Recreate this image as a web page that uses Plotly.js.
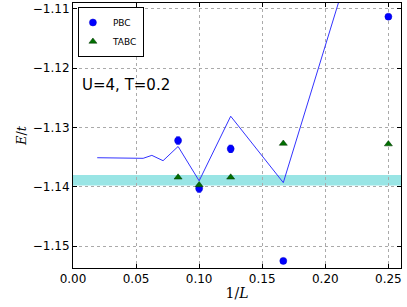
<!DOCTYPE html>
<html>
<head>
<meta charset="utf-8">
<script src="https://cdn.plot.ly/plotly-3.0.1.min.js"></script>
<style>html,body{margin:0;padding:0;background:#fff;}#chart{width:407px;height:307px;}</style>
</head>
<body>
<div id="chart"></div>
<script>
// PBC data
var pbcX = [0.25, 0.1667, 0.125, 0.1, 0.0833];
var pbcY = [-1.1113, -1.1525, -1.1336, -1.1403, -1.1322];
var pbcErr = [0.0002, 0.0002, 0.0006, 0.0006, 0.0006];
// TABC data
var tabcX = [0.25, 0.1667, 0.125, 0.1, 0.0833];
var tabcY = [-1.1328, -1.1327, -1.1384, -1.1397, -1.1384];
// line data
var lineX = [0.0192, 0.025, 0.0333, 0.0417, 0.05, 0.0556, 0.0625, 0.0714, 0.0833, 0.1, 0.125, 0.1667, 0.25];
var lineY = [-1.1351, -1.1351, -1.1351, -1.1351, -1.1351, -1.1352, -1.1347, -1.1356, -1.1332, -1.1390, -1.1281, -1.1393, -1.0815];
// band
var bandLow = -1.1398, bandHigh = -1.1380;
var xTicks = [0, 0.05, 0.1, 0.15, 0.2, 0.25];
var xTickText = ['0.00', '0.05', '0.10', '0.15', '0.20', '0.25'];
var yTicks = [-1.15, -1.14, -1.13, -1.12, -1.11];
var yTickText = ['\u22121.15', '\u22121.14', '\u22121.13', '\u22121.12', '\u22121.11'];

var traces = [
  {x: lineX, y: lineY, mode: 'lines', line: {color: '#3333ff', width: 1}, showlegend: false, hoverinfo: 'skip'},
  {x: pbcX, y: pbcY, mode: 'markers', name: 'PBC',
   marker: {symbol: 'circle', size: 7, color: '#0000ff', line: {color: '#0000cc', width: 0.5}},
   error_y: {type: 'data', array: pbcErr, color: '#0000ff', thickness: 1, width: 2}},
  {x: tabcX, y: tabcY, mode: 'markers', name: 'TABC',
   marker: {symbol: 'triangle-up', size: 7, color: '#007000', line: {color: '#003000', width: 0.5}}}
];

var layout = {
  width: 407, height: 307,
  margin: {l: 73, r: 6, t: 3, b: 39},
  paper_bgcolor: '#fff', plot_bgcolor: '#fff',
  font: {family: 'DejaVu Sans, sans-serif', size: 12, color: '#000'},
  xaxis: {range: [0, 0.26], tickvals: xTicks, ticktext: xTickText, showgrid: true,
          gridcolor: '#aaa', griddash: 'dot', gridwidth: 1, zeroline: false,
          showline: true, mirror: 'ticks', linecolor: '#000', linewidth: 1,
          ticks: 'inside', ticklen: 4, tickcolor: '#000',
          title: {text: '1/<i>L</i>', font: {family: 'DejaVu Serif, serif', size: 14}, standoff: 2}},
  yaxis: {range: [-1.1537, -1.109], tickvals: yTicks, ticktext: yTickText, showgrid: true,
          gridcolor: '#aaa', griddash: 'dot', gridwidth: 1, zeroline: false,
          showline: true, mirror: 'ticks', linecolor: '#000', linewidth: 1,
          ticks: 'inside', ticklen: 4, tickcolor: '#000',
          title: {text: '<i>E</i>/<i>t</i>', font: {family: 'DejaVu Serif, serif', size: 13}, standoff: 3}},
  shapes: [
    {type: 'rect', xref: 'paper', x0: 0, x1: 1, yref: 'y', y0: bandLow, y1: bandHigh,
     fillcolor: 'rgba(0,191,191,0.4)', line: {width: 0}, layer: 'below'}
  ],
  annotations: [
    {xref: 'paper', yref: 'paper', x: 0.02, y: 0.69, xanchor: 'left', yanchor: 'middle',
     text: 'U=4, T=0.2', showarrow: false, font: {size: 15, color: '#000'}}
  ],
  legend: {x: 0.015, y: 0.985, xanchor: 'left', yanchor: 'top', bgcolor: '#fff',
           bordercolor: '#000', borderwidth: 1, font: {size: 9},
           itemwidth: 30, tracegroupgap: 0, indentation: -6}
};

Plotly.newPlot('chart', traces, layout, {displayModeBar: false, staticPlot: true});
</script>
</body>
</html>
